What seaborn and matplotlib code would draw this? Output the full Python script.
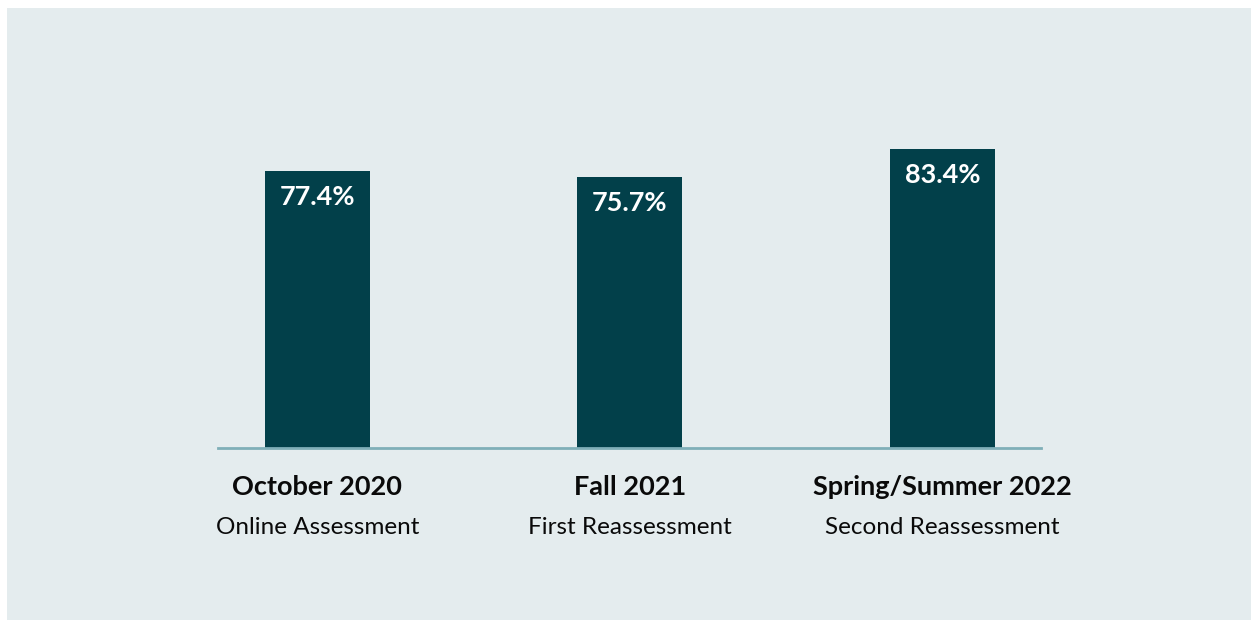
import matplotlib
matplotlib.use("Agg")
import matplotlib.pyplot as plt
import seaborn as sns
import pandas as pd
from matplotlib.patches import Rectangle

# data
periods = ["October 2020", "Fall 2021", "Spring/Summer 2022"]
subtitles = ["Online Assessment", "First Reassessment", "Second Reassessment"]
rates = [77.4, 75.7, 83.4]

BG = "#E4ECEE"
BAR = "#02404A"
AXIS = "#7FAFB8"

sns.set_style("white")
plt.rcParams["font.family"] = ["Lato", "DejaVu Sans"]

df = pd.DataFrame({"period": periods, "rate": rates})

fig = plt.figure(figsize=(12.51, 6.2), dpi=100, facecolor="white")
# light panel behind the chart
fig.patches.append(Rectangle((7 / 1251, 0), 1 - 7 / 1251, 1 - 8 / 620,
                             transform=fig.transFigure, facecolor=BG,
                             edgecolor="none", zorder=-1))

ax = fig.add_axes([218 / 1251, 172 / 620, 823 / 1251, 358 / 620])
ax.set_facecolor("none")

sns.barplot(data=df, x="period", y="rate", color=BAR, width=0.336,
            saturation=1, linewidth=0, ax=ax)

ax.set_xlim(-0.318, 2.315)
ax.set_ylim(0, 100)
for s in ["top", "right", "left"]:
    ax.spines[s].set_visible(False)
ax.spines["bottom"].set_color(AXIS)
ax.spines["bottom"].set_linewidth(2)
ax.set_yticks([])
ax.set_xticks([])
ax.set_xlabel("")
ax.set_ylabel("")

# value labels inside top of bars
for i, v in enumerate(rates):
    ax.annotate(f"{v:.1f}%", xy=(i, v), xytext=(0, -18.5),
                textcoords="offset points", ha="center", va="center",
                color="white", fontsize=19.5, fontweight="bold")

# two-line category labels
trans = ax.get_xaxis_transform()
for i, (p, s) in enumerate(zip(periods, subtitles)):
    ax.text(i, -0.109, p, transform=trans, ha="center", va="center",
            fontsize=19.5, fontweight="bold", color="#0A0A0A")
    ax.text(i, -0.222, s, transform=trans, ha="center", va="center",
            fontsize=17.5, color="#0A0A0A")

fig.savefig("out.png", dpi=100, facecolor="white")
